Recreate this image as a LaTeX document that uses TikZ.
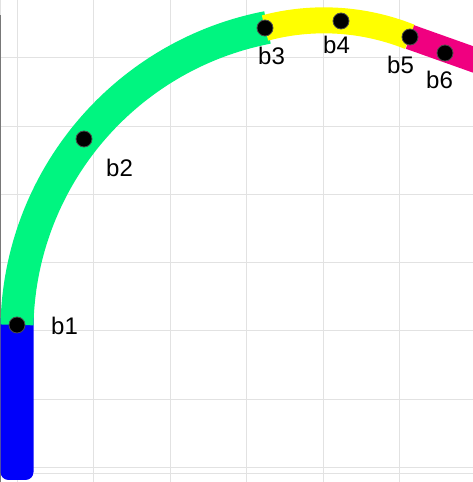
\documentclass[tikz,border=0pt]{standalone}
\usepackage{fontspec}
\setmainfont{Liberation Sans}
\definecolor{gridc}{RGB}{226,226,226}
\definecolor{edgec}{RGB}{120,120,120}
\definecolor{segblue}{RGB}{0,0,250}
\definecolor{seggreen}{RGB}{0,245,128}
\definecolor{segyellow}{RGB}{255,255,0}
\definecolor{segpink}{RGB}{240,0,128}
\tikzset{
  gridline/.style={draw=gridc, line width=1pt},
  dotnode/.style={circle, fill=black, draw=black!70, line width=0.8pt, minimum size=16pt, inner sep=0pt},
  lbl/.style={font=\fontsize{24}{24}\selectfont, anchor=base west, inner sep=0pt},
}
\begin{document}
\begin{tikzpicture}[x=1pt,y=1pt]
\useasboundingbox (0,0) rectangle (473,482);
\fill[white] (0,0) rectangle (473,482);
\begin{scope}
\clip (0,0) rectangle (473,482);
% grid
\foreach \gx in {17,93.5,170,246.5,323,399.5}
  \draw[gridline] (\gx,0) -- (\gx,482);
\foreach \gy in {424,355,287,219,151,82,14,8}
  \draw[gridline] (0,\gy) -- (473,\gy);
\draw[edgec, line width=1.2pt] (0.6,0) -- (0.6,467);
\draw[gridc, line width=1.2pt] (0.6,467) -- (0.6,482);
% dots positions
\coordinate (p1) at (17,157);
\coordinate (p2) at (84,343);
\coordinate (p3) at (265,454);
\coordinate (p4) at (341,461);
\coordinate (p5) at (410,445);
\coordinate (p6) at (445,429);
\coordinate (pend) at (500,413);
% blue segment
\fill[segblue] (0.5,164) -- (0.5,10) arc[start angle=180,end angle=270,radius=8] -- (25.5,2) arc[start angle=270,end angle=360,radius=8] -- (33.5,164) -- cycle;
% green arc
\draw[seggreen, line width=33pt] (17,157.1) arc[start angle=178.8, end angle=101, radius=309.6];
% yellow arc
\draw[segyellow, line width=26pt] (p3) arc[start angle=104.8, end angle=68.2, radius=231];
% pink segment
\draw[segpink, line width=25pt] (p5) -- (pend);
\end{scope}
% dots
\node[dotnode] (b1) at (p1) {};
\node[dotnode] (b2) at (p2) {};
\node[dotnode] (b3) at (p3) {};
\node[dotnode] (b4) at (p4) {};
\node[dotnode] (b5) at (p5) {};
\node[dotnode] (b6) at (p6) {};
% labels
\node[lbl] (l1) at (51,147) {b1};
\node[lbl] (l2) at (106,305) {b2};
\node[lbl] (l3) at (258,417) {b3};
\node[lbl] (l4) at (323,428) {b4};
\node[lbl] (l5) at (387,408) {b5};
\node[lbl] (l6) at (426,393) {b6};
\end{tikzpicture}
\end{document}
